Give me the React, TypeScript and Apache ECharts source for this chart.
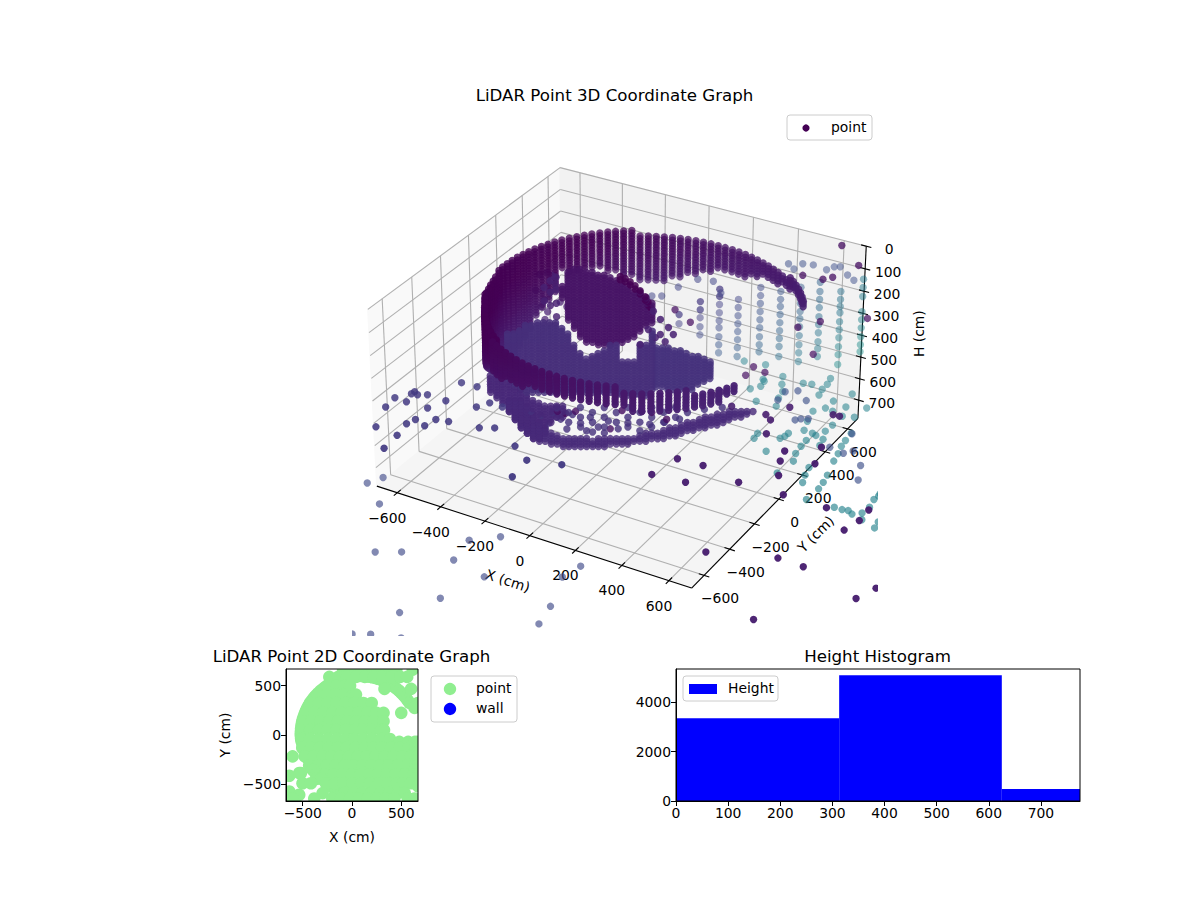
import { useEffect, useRef } from "react";
import * as echarts from "echarts";

const FONT = "DejaVu Sans";

// axis limits of the 3D view
const limXY = 695;
const limH = 785;
const readScale = 695 / 670; // the values below were read against a 670 cm box
const xTicks = [-600, -400, -200, 0, 200, 400, 600];
const yTicks = [-600, -400, -200, 0, 200, 400, 600];
const hTicks = [0, 100, 200, 300, 400, 500, 600, 700];

// scan heights shared by the columns below
const scanRows = [0, 12, 25, 37, 50, 62, 75, 87, 100, 112, 125, 137, 150, 162, 175, 187, 200, 212, 225, 237, 250, 262, 275, 287, 300, 312, 325, 337, 350, 362, 375, 387, 400, 412, 425, 437, 450, 462, 475, 487, 500, 512, 525, 537, 550, 562, 575, 587, 600, 612, 625, 637, 650, 662, 675, 687, 700, 712, 725, 737, 750, 762, 775];

// ceiling ring: x, y, first height, last height
const ringColumns = [
  [583, 327, 100, 125], [565, 353, 100, 125], [546, 378, 100, 125], [526, 401, 100, 125], [504, 424, 100, 125], [481, 446, 100, 125], [458, 466, 100, 150], [433, 485, 125, 150], [407, 503, 125, 150], [380, 520, 125, 175],
  [352, 535, 125, 175], [324, 548, 125, 175], [295, 560, 125, 175], [265, 571, 125, 200], [235, 580, 125, 200], [205, 587, 125, 225], [174, 593, 125, 225], [143, 597, 125, 225], [111, 599, 125, 225], [80, 600, 125, 225],
  [49, 599, 125, 250], [17, 597, 125, 250], [-14, 593, 125, 275], [-45, 587, 125, 275], [-75, 580, 125, 300], [-105, 571, 125, 300], [-135, 560, 125, 325], [-164, 548, 125, 325], [-192, 535, 125, 325], [-220, 520, 125, 325],
  [-247, 503, 100, 300], [-273, 485, 100, 300], [-298, 466, 100, 275], [-321, 446, 100, 275], [-344, 424, 100, 250], [-366, 401, 100, 250], [-386, 378, 100, 250], [-405, 353, 100, 250], [-423, 327, 100, 250], [-440, 300, 100, 225],
  [-455, 272, 100, 325], [-468, 244, 100, 350], [-480, 215, 100, 375], [-491, 185, 100, 400], [-500, 155, 100, 450], [-507, 125, 100, 475], [-513, 94, 100, 500], [-517, 63, 100, 525], [-519, 31, 100, 550], [-520, 0, 100, 575],
  [-517, -31, 100, 575], [-512, -63, 112, 550], [-503, -94, 112, 525], [-495, -125, 112, 500], [-485, -155, 112, 475], [-475, -185, 112, 450], [-462, -215, 100, 425], [-445, -244, 100, 400], [-425, -272, 100, 375], [-410, -300, 100, 350],
  [-393, -327, 100, 325], [-375, -353, 100, 300], [-356, -378, 100, 275], [-336, -401, 100, 250], [-314, -424, 100, 225], [-291, -446, 100, 225], [-268, -466, 100, 225], [-243, -485, 100, 225], [-247, -503, 100, 225], [-220, -520, 100, 225],
  [-192, -535, 100, 225], [-164, -548, 100, 200], [-135, -560, 100, 200], [-105, -571, 100, 200], [-75, -580, 100, 200], [-45, -587, 100, 175], [-14, -593, 100, 175], [17, -597, 100, 175], [49, -599, 100, 175], [80, -600, 100, 175],
  [111, -599, 100, 175], [143, -597, 100, 175], [174, -593, 100, 175], [205, -587, 100, 175], [235, -580, 100, 175], [265, -571, 100, 175], [295, -560, 100, 175], [324, -548, 125, 175], [352, -535, 125, 200], [380, -520, 125, 200],
  [407, -503, 125, 200], [433, -485, 125, 200], [458, -466, 125, 200], [481, -446, 125, 200], [504, -424, 125, 200], [526, -401, 150, 200], [546, -378, 150, 200], [565, -353, 150, 200], [583, -327, 150, 200], [600, -300, 150, 175], [614, -272, 150, 175],
];

// inner surfaces: x, y, first height, last height
const lowerLobe = [
  [-369, -213, 250, 455], [-350, -202, 240, 480], [-331, -191, 230, 500], [-311, -180, 210, 520], [-292, -168, 205, 520], [-272, -157, 200, 520], [-253, -146, 200, 520], [-233, -135, 200, 520], [-214, -123, 200, 520], [-194, -112, 215, 520],
  [-175, -101, 250, 520], [-156, -90, 290, 520], [-136, -79, 330, 520], [-117, -67, 355, 520], [-97, -56, 340, 520], [-78, -45, 330, 520], [-58, -34, 320, 520], [-39, -22, 297, 520], [-19, -11, 297, 525], [0, 0, 375, 525], [19, 11, 375, 525], [39, 22, 375, 530], [58, 34, 297, 530], [78, 45, 297, 530], [97, 56, 230, 500],
];
const upperLobe = [
  [-269, 18, 115, 185], [-250, 29, 60, 275], [-231, 40, 50, 320], [-211, 51, 50, 355], [-192, 63, 60, 380], [-172, 74, 60, 385], [-153, 85, 70, 390], [-133, 96, 75, 395], [-114, 108, 85, 395], [-94, 119, 95, 385], [-75, 130, 105, 380], [-56, 141, 115, 365], [-36, 152, 140, 350], [-17, 164, 150, 330], [3, 175, 170, 310], [22, 186, 200, 290],
];
const rightLobe = [
  [110, 64, 302, 490], [130, 75, 302, 490], [149, 86, 311, 509], [169, 97, 315, 509], [188, 109, 324, 505], [207, 120, 333, 505], [227, 131, 342, 500], [246, 142, 347, 486], [266, 153, 356, 473], [285, 165, 374, 455],
];
const underBand = [
  [-428, -247, 430, 520], [-408, -236, 430, 545], [-389, -225, 445, 568], [-369, -213, 455, 600], [-350, -202, 480, 645], [-331, -191, 500, 680], [-311, -180, 520, 707], [-292, -168, 545, 725], [-272, -157, 555, 725], [-253, -146, 568, 700], [-233, -135, 568, 658], [-214, -123, 568, 635], [-194, -112, 568, 625],
];
const floorBowl = [
  [-369, -213, 545, 600], [-350, -202, 545, 645], [-331, -191, 545, 680], [-311, -180, 570, 707], [-292, -168, 610, 725], [-272, -157, 645, 739], [-253, -146, 670, 748], [-233, -135, 694, 757], [-214, -123, 707, 761], [-194, -112, 716, 766], [-175, -101, 725, 766], [-156, -90, 725, 770], [-136, -79, 725, 770], [-117, -67, 725, 770], [-97, -56, 730, 770], [-78, -45, 725, 766], [-58, -34, 725, 766], [-39, -22, 725, 761], [-19, -11, 725, 761], [0, 0, 725, 761], [19, 11, 716, 755], [39, 22, 716, 748], [58, 34, 707, 748], [78, 45, 698, 740], [97, 56, 698, 734],
  [117, 67, 689, 730], [136, 79, 685, 725], [156, 90, 675, 720], [175, 101, 667, 716], [194, 112, 660, 705], [214, 123, 649, 698], [233, 135, 640, 695], [253, 146, 635, 685], [272, 157, 625, 680], [292, 168, 617, 671], [311, 180, 610, 662], [331, 191, 604, 653], [350, 202, 595, 640], [369, 213, 590, 631], [389, 225, 590, 625], [408, 236, 590, 613], [428, 247, 595, 610],
];

// loose returns between the surfaces
const darkStripe = [
  [-81, 126, 81], [-65, 136, 90], [-49, 145, 104], [-33, 154, 122], [-17, 164, 144], [0, 173, 171], [9, 179, 194], [16, 182, 216],
  [-81, 126, 95], [-65, 136, 104], [-49, 145, 118], [-33, 154, 136], [-17, 164, 158], [0, 173, 185], [9, 179, 208],
];
const innerDots = [
  [-500, 230, 239], [-475, 245, 230], [-458, 254, 243], [-449, 260, 284], [-465, 251, 320], [-484, 239, 356], [-497, 232, 387], [-484, 239, 446], [-432, 269, 365], [-475, 245, 410], [-513, 222, 311], [-410, 282, 387],
  [-308, -5, 100], [-308, -5, 150], [-308, -5, 210], [-289, 7, 85], [-289, 7, 140], [-289, 7, 200], [-289, 7, 260], [-328, -16, 130], [-328, -16, 190],
  [123, 71, 252], [149, 86, 221], [100, 58, 149], [123, 71, 185], [165, 95, 252], [84, 49, 230], [107, 62, 266], [139, 80, 284], [58, 34, 297],
];
const bowlDots = [
  [-298, -172, 599], [-266, -153, 617], [-227, -131, 604], [-201, -116, 635], [-162, -94, 613], [-136, -79, 653], [-104, -60, 626], [-78, -45, 671], [-45, -26, 644], [-13, -7, 680], [19, 11, 653], [58, 34, 689], [-240, -138, 653], [-181, -105, 680], [-117, -67, 689], [-58, -34, 698], [91, 52, 658], [139, 80, 649], [188, 109, 635], [269, 155, 590], [327, 189, 581],
  [-214, -123, 581], [-214, -123, 626], [-175, -101, 604], [-175, -101, 649], [-136, -79, 581], [-136, -79, 626], [-136, -79, 671], [-97, -56, 604], [-97, -56, 649], [-97, -56, 694], [-58, -34, 581], [-58, -34, 626], [-58, -34, 671], [-19, -11, 604], [-19, -11, 649], [19, 11, 581], [19, 11, 626], [19, 11, 671], [58, 34, 604], [58, 34, 649], [97, 56, 581], [97, 56, 626], [97, 56, 671], [136, 79, 604], [136, 79, 649], [175, 101, 581], [175, 101, 626], [214, 123, 604],
];
const frontDots = [
  [65, 37, 599], [97, 56, 604], [146, 84, 635], [-39, -22, 680], [-211, -122, 599], [-185, -107, 608], [-152, -88, 599], [0, 0, 595],
  [-47, 492, 401], [5, 522, 459], [368, 731, 482], [443, 774, 455], [423, 763, 608], [378, 737, 243], [446, 776, 261], [478, 795, 252], [222, 647, 667], [261, 670, 694], [196, 632, 707], [563, 844, 198], [504, 810, 108], [601, 866, 441],
];
const ringDots = [
  [28, 535, 261], [80, 565, 270], [-37, 498, 297], [-125, 447, 338], [-92, 466, 338], [106, 580, 324],
];

// far wall: x, y, heights of its returns
const wallColumns: [number, number, number[]][] = [
  [-96, 615, [499, 542]],
  [-24, 656, [438, 476, 513, 556, 594]],
  [41, 694, [381, 414, 452, 490, 528, 561, 603, 641, 679]],
  [105, 731, [428, 466, 504, 542, 579, 617, 655, 697]],
  [180, 774, [372, 410, 447, 485, 523, 561, 603, 641, 674]],
  [248, 814, [391, 428, 461, 499, 537, 575, 612, 650, 697]],
  [316, 853, [372, 414, 447, 485, 518, 556, 598, 641, 679, 721]],
  [381, 890, [348, 391, 428, 466, 509, 546, 584, 627, 660, 697]],
  [452, 931, [391, 428, 461, 490, 532, 570, 608, 650, 688, 735]],
  [527, 974, [334, 372, 414, 485, 523, 561, 603, 641, 674]],
];
const wallTop = [
  [271, 827, 263], [290, 838, 287], [319, 855, 263], [355, 875, 268], [400, 902, 291], [426, 916, 277], [446, 928, 277], [472, 943, 315], [494, 956, 339],
];
const floorWall = [
  [374, 378], [457, 384], [428, 494], [595, 421], [626, 465], [610, 344], [629, 279], [701, 313], [684, 268], [588, 230], [586, 205], [577, 183], [488, 172], [493, 134], [575, 74], [680, -40], [694, 63], [677, 115], [671, 171], [669, 218], [666, 275], [720, 256], [729, 211], [705, 366], [764, 52], [775, -2], [790, -51], [860, -61], [855, -13], [846, 39], [823, 138], [814, 193], [801, 246], [796, 291], [792, 348], [751, 459], [708, 443], [660, 458], [690, 511], [762, 544], [668, 611],
  [854, -147], [964, -143], [995, -143], [1017, -138], [1039, -152], [1067, -127], [1074, -80], [1065, -25], [1070, 4], [1086, -168], [1148, -193], [1210, -226], [1143, -152], [1068, 21], [310, 451], [336, 488], [330, 528], [468, 590], [500, 600], [552, 630],
  [190, 628], [276, 644], [376, 597], [320, 539], [400, 542], [543, 676], [552, 586], [561, 540], [437, 442], [629, 527],
];

// scattered returns outside the room
const nearOutliers = [
  [-551, -258], [-484, -254], [-706, -477], [-669, -421], [-667, -402], [-645, -416], [-613, -397], [-652, -480], [-698, -550], [-529, -400], [-559, -478], [-406, -381], [-379, -331], [-322, -333], [-438, -521], [-487, -532], [-498, -590], [-552, -570], [-564, -611], [-548, -697], [-316, -502], [-267, -474], [-135, -545], [-47, -606], [78, -569], [-33, -727], [-649, -686], [-539, -795],
];
const farOutliers = [
  [-637, -775], [-608, -714], [-518, -870], [-354, -1138], [-273, -1091], [-85, -1042], [-106, -908], [-21, -833], [65, -1077], [302, -941], [323, -851], [359, -1115], [4, -1264], [-70, -1406], [379, -1224], [-139, -1592], [-84, -1561], [18, -1528],
];
const rightOutliers = [
  [428, -531], [456, -394], [557, -388], [557, -517], [719, -423], [830, -869], [1059, -780], [1157, -784], [1155, -1140], [1393, -864], [1424, -776], [1177, -513], [1196, -433], [1061, -416], [1195, -356], [893, -417], [821, -313], [897, -178], [781, -223], [764, -155], [652, -82], [620, 12], [588, 37], [640, 128], [867, -66], [827, 162], [802, 160], [451, 27], [367, 99], [352, 64],
];
const rightBlueOutliers = [
  [1078, -199], [1043, -107], [578, 152], [574, 219], [612, 249], [671, 201], [698, 57], [736, 88], [713, 74], [893, -51], [953, -63], [977, -32], [921, 73],
];

// 2D graph: y, then the x values of that row
const planRows: [number, number[]][] = [
  [664, [-90, 0, 90, 180, 270, 360, 450, 617]],
  [590, [-230, -140, -50, 40, 130, 220, 310, 400, 490, 560]],
  [500, [-250, -160, -70, -20]],
  [468, [330, 600]],
  [410, [-350, -260, -170, -80, 10, 40]],
  [325, [-425, -335, -245, -155, -65, 25, 115, 200, 670]],
  [275, [635]],
  [225, [-470, -380, -290, -200, -110, -20, 70, 160, 250, 320, 500]],
  [140, [-500, -410, -320, -230, -140, -50, 40, 130, 220, 320]],
  [50, [-515, -425, -335, -245, -155, -65, 25, 115, 205, 295, 325]],
  [-40, [-515, -425, -335, -245, -155, -65, 25, 115, 205, 295, 385]],
  [-70, [480, 570, 640, 670]],
  [-130, [-505, -415, -325, -235, -145, -55, 35, 125, 215, 305, 395, 485, 575, 640, 670]],
  [-175, [640, 670]],
  [-217, [-603, -480, -390, -300, -210, -120, -30, 60, 150, 240, 330, 420, 510, 600, 670]],
  [-260, [640, 670]],
  [-310, [-435, -345, -255, -165, -75, 15, 105, 195, 285, 375, 465, 555, 645, 670]],
  [-355, [-400, 640, 670]],
  [-386, [-535, -519]],
  [-400, [-365, -275, -185, -95, -5, 85, 175, 265, 355, 445, 535, 625, 670]],
  [-414, [-637]],
  [-445, [-360, -310, 640]],
  [-490, [-502, -417, -265, -175, -85, 5, 95, 185, 275, 365, 455, 520, 600]],
  [-520, [670]],
  [-573, [-637]],
  [-590, [-298, -75, 15, 105, 195, 285, 375, 465, 535]],
  [-607, [-536]],
  [-645, [-603, -383, -200, -110, -20, 70, 160, 250, 340, 430, 566, 634]],
];
const planLimit = 670;
const planTicks = [-500, 0, 500];

// histogram
const histEdges = [0, 313, 625, 775];
const histCounts = [3354, 5090, 485];
const histXTicks = [0, 100, 200, 300, 400, 500, 600, 700];
const histYTicks = [0, 2000, 4000];

const viridis = [
  [68, 1, 84], [72, 36, 117], [65, 68, 135], [53, 95, 141], [42, 120, 142], [33, 145, 140], [34, 168, 132], [68, 191, 112], [122, 209, 81], [189, 223, 38], [253, 231, 37],
];

const boxA = 0.63;
const boxC = 0.354;
const elev = (30 * Math.PI) / 180;
const azim = (-60 * Math.PI) / 180;
const w = [Math.cos(elev) * Math.cos(azim), Math.cos(elev) * Math.sin(azim), Math.sin(elev)];
const u = [-Math.sin(azim), Math.cos(azim), 0];
const v = [w[1] * u[2] - w[2] * u[1], w[2] * u[0] - w[0] * u[2], w[0] * u[1] - w[1] * u[0]];

// same view as a default matplotlib 3D axes, H axis pointing down
function project(x: number, y: number, h: number) {
  const q = [(x / limXY) * boxA, (y / limXY) * boxA, boxC - (h / limH) * 2 * boxC];
  const depth = q[0] * w[0] + q[1] * w[1] + q[2] * w[2];
  const xv = q[0] * u[0] + q[1] * u[1] + q[2] * u[2];
  const yv = q[0] * v[0] + q[1] * v[1] + q[2] * v[2];
  return [xv / (10 - depth), yv / (10 - depth), depth];
}

function rangeValue(x: number, y: number, h: number) {
  return (Math.sqrt(x * x + y * y + h * h) - 550) / 1500;
}

function expand(columns: number[][], c: number | null) {
  const out: number[][] = [];
  columns.forEach(([x, y, top, bottom]) => {
    scanRows.forEach((h) => {
      if (h >= top && h <= bottom) out.push([x, y, h, c === null ? rangeValue(x, y, h) : c]);
    });
  });
  return out;
}

function tint(list: number[][], h: number | null, c: number) {
  return list.map((p) => [p[0], p[1], h === null ? p[2] : h, c]);
}

const allPoints: number[][] = [
  ...expand(ringColumns, null),
  ...expand(lowerLobe, 0.13),
  ...expand(upperLobe, 0.05),
  ...expand(rightLobe, 0.14),
  ...expand(underBand, 0.11),
  ...expand(floorBowl, 0.12),
  ...tint(darkStripe, null, 0),
  ...tint(innerDots, null, 0.09),
  ...tint(bowlDots, null, 0.14),
  ...tint(frontDots, null, 0.04),
  ...tint(ringDots, null, 0.2),
  ...wallColumns.flatMap(([x, y, hs]) => hs.map((h) => [x, y, h, rangeValue(x, y, h)])),
  ...tint(wallTop, null, 0.24),
  ...tint(floorWall, 640, 0.44),
  ...tint(nearOutliers, 500, 0.17),
  ...tint(farOutliers, 700, 0.22),
  ...tint(rightOutliers, 450, 0.08),
  ...tint(rightBlueOutliers, 450, 0.24),
];

function viridisColor(t: number, alpha: number) {
  const s = Math.min(Math.max(t, 0), 1) * (viridis.length - 1);
  const i = Math.min(Math.floor(s), viridis.length - 2);
  const f = s - i;
  const rgb = viridis[i].map((c, k) => Math.round(c + (viridis[i + 1][k] - c) * f));
  return `rgba(${rgb[0]},${rgb[1]},${rgb[2]},${alpha.toFixed(2)})`;
}

const cloud = allPoints
  .map((p) => {
    const [px, py, depth] = project(p[0] * readScale, p[1] * readScale, p[2]);
    return { px, py, depth, c: p[3] };
  })
  .sort((a, b) => a.depth - b.depth);
// far returns look paler than the dense purple ones
const cloudColors = cloud.map((p) => {
  const shade = Math.min(Math.max(0.84 + 0.3 * p.depth, 0.6), 0.96);
  return viridisColor(p.c, p.c > 0.18 ? Math.min(shade, 0.9) * 0.72 : shade);
});

const planData = [...ringColumns.map((c) => [c[0], c[1]]), ...planRows.flatMap(([y, xs]) => xs.map((x) => [x, y]))];

// panes, grid lines, ticks and labels of the 3D box
type Prim = { kind: string; pts: number[][]; color?: string; width?: number; text?: string; rot?: number; dx?: number; dy?: number };
const xy = (x: number, y: number, h: number) => project(x, y, h).slice(0, 2);
const L = limXY;
const frame: Prim[] = [
  { kind: "poly", color: "#f9f9f9", pts: [xy(-L, -L, 0), xy(-L, L, 0), xy(-L, L, limH), xy(-L, -L, limH)] },
  { kind: "poly", color: "#f2f2f2", pts: [xy(-L, L, 0), xy(L, L, 0), xy(L, L, limH), xy(-L, L, limH)] },
  { kind: "poly", color: "#f5f5f5", pts: [xy(-L, -L, limH), xy(L, -L, limH), xy(L, L, limH), xy(-L, L, limH)] },
];
const gridLine = (a: number[], b: number[]) => frame.push({ kind: "line", pts: [a, b], color: "#b0b0b0", width: 1.1 });
xTicks.forEach((x) => {
  gridLine(xy(x, -L, limH), xy(x, L, limH));
  gridLine(xy(x, L, limH), xy(x, L, 0));
});
yTicks.forEach((y) => {
  gridLine(xy(L, y, limH), xy(-L, y, limH));
  gridLine(xy(-L, y, limH), xy(-L, y, 0));
});
hTicks.forEach((h) => {
  gridLine(xy(-L, -L, h), xy(-L, L, h));
  gridLine(xy(-L, L, h), xy(L, L, h));
});
const blackLine = (a: number[], b: number[]) => frame.push({ kind: "line", pts: [a, b], color: "#000", width: 1.1 });
blackLine(xy(-L, -L, limH), xy(L, -L, limH));
blackLine(xy(L, -L, limH), xy(L, L, limH));
blackLine(xy(L, L, limH), xy(L, L, 0));
const minus = (n: number) => String(n).replace("-", "\u2212");
const label = (at: number[], dx: number, dy: number, text: string, rot = 0) => frame.push({ kind: "text", pts: [at], dx, dy, text, rot });
xTicks.forEach((x) => {
  blackLine(xy(x, -L - 24, limH), xy(x, -L + 24, limH));
  label(xy(x, -L, limH), -10, 25, minus(x));
});
yTicks.forEach((y) => {
  blackLine(xy(L - 22, y, limH), xy(L + 22, y, limH));
  label(xy(L, y, limH), 16, 23, minus(y));
});
hTicks.forEach((h) => {
  blackLine(xy(L - 22, L, h), xy(L + 22, L, h));
  label(xy(L, L, h), 23, 3, String(h));
});
label(xy(0, -L, limH), -22, 45, "X (cm)", -0.31);
label(xy(L, 0, limH), 37, 35, "Y (cm)", 0.785);
label(xy(L, L, 392), 57, 0, "H (cm)", Math.PI / 2);

function renderFrame(params: any, api: any) {
  const prim = frame[params.dataIndex];
  const pts = prim.pts.map((p) => api.coord(p));
  if (prim.kind === "poly") {
    return { type: "polygon", silent: true, shape: { points: pts }, style: { fill: prim.color, stroke: prim.color, lineWidth: 1.5 } };
  }
  if (prim.kind === "line") {
    return { type: "line", silent: true, shape: { x1: pts[0][0], y1: pts[0][1], x2: pts[1][0], y2: pts[1][1] }, style: { stroke: prim.color, lineWidth: prim.width } };
  }
  return {
    type: "text",
    silent: true,
    x: pts[0][0] + (prim.dx || 0),
    y: pts[0][1] + (prim.dy || 0),
    rotation: prim.rot || 0,
    style: { text: prim.text, fontSize: 13.9, fontFamily: FONT, fill: "#000", align: "center", verticalAlign: "middle" },
  };
}

// custom series so that the marks are really cut at the axes, as in the original
function renderCloud(params: any, api: any) {
  const c = api.coord([api.value(0), api.value(1)]);
  return { type: "circle", silent: true, shape: { cx: c[0], cy: c[1], r: 3.7 }, style: { fill: cloudColors[params.dataIndex] } };
}

function renderPlan(_params: any, api: any) {
  const c = api.coord([api.value(0), api.value(1)]);
  return { type: "circle", silent: true, shape: { cx: c[0], cy: c[1], r: 6.3 }, style: { fill: "#90ee90" } };
}

function renderHist(_params: any, api: any) {
  const a = api.coord([api.value(0), api.value(2)]);
  const b = api.coord([api.value(1), 0]);
  return { type: "rect", silent: true, shape: { x: a[0], y: a[1], width: b[0] - a[0], height: b[1] - a[1] }, style: { fill: "#0000ff" } };
}

const tickText = { color: "#000", fontFamily: FONT, fontSize: 13.9 };
const titleText = { fontWeight: "normal", fontSize: 16.67, fontFamily: FONT, color: "#000" };
const axisBase = {
  axisLine: { show: true, onZero: false, lineStyle: { color: "#000", width: 1 } },
  axisTick: { show: true, length: 5, lineStyle: { color: "#000", width: 1 } },
  splitLine: { show: false },
  nameTextStyle: tickText,
  nameLocation: "middle" as const,
  z: 5,
};

const legendRect = (x: number, y: number, width: number, height: number) => ({
  type: "rect",
  z: 10,
  shape: { x, y, width, height, r: 3 },
  style: { fill: "rgba(255,255,255,0.8)", stroke: "#cccccc", lineWidth: 1 },
});
const legendDot = (cx: number, cy: number, r: number, fill: string) => ({
  type: "circle",
  z: 11,
  shape: { cx, cy, r },
  style: { fill },
});
const legendText = (x: number, y: number, text: string) => ({
  type: "text",
  z: 11,
  x,
  y,
  style: { text, fontSize: 13.9, fontFamily: FONT, fill: "#000", align: "left", verticalAlign: "middle" },
});

export default function App() {
  const chartRef = useRef<HTMLDivElement>(null);

  useEffect(() => {
    if (!chartRef.current) return;
    const chart = echarts.init(chartRef.current, null, { renderer: "svg" });

    chart.setOption({
      animation: false,
      backgroundColor: "#fff",
      title: [
        { text: "LiDAR Point 3D Coordinate Graph", left: 609.5, top: 82, textAlign: "center", textStyle: titleText },
        { text: "LiDAR Point 2D Coordinate Graph", left: 346.5, top: 643, textAlign: "center", textStyle: titleText },
        { text: "Height Histogram", left: 872.5, top: 643, textAlign: "center", textStyle: titleText },
      ],
      graphic: [
        legendRect(787, 115, 85, 25),
        legendDot(806, 128, 3.6, "#440154"),
        legendText(831, 127, "point"),
        legendRect(431, 676, 86, 46),
        legendDot(450, 689, 6.2, "#90ee90"),
        legendText(476, 688, "point"),
        legendDot(450, 709, 6.2, "#0000ff"),
        legendText(476, 708, "wall"),
        legendRect(683, 676, 95, 25),
        { type: "rect", z: 11, shape: { x: 689, y: 684, width: 28, height: 10 }, style: { fill: "#0000ff" } },
        legendText(728, 688, "Height"),
      ],
      grid: [
        { left: 352, top: 110, width: 526, height: 526, show: false },
        { left: 286, top: 669, width: 132, height: 132, show: true, borderColor: "#000", borderWidth: 1, z: 5 },
        { left: 676, top: 669, width: 404, height: 132, show: true, borderColor: "#000", borderWidth: 1, z: 5 },
      ],
      xAxis: [
        { gridIndex: 0, type: "value", min: -0.095, max: 0.09, show: false },
        {
          ...axisBase,
          gridIndex: 1,
          type: "value",
          min: -planLimit,
          max: planLimit,
          name: "X (cm)",
          nameGap: 29,
          axisTick: { ...axisBase.axisTick, customValues: planTicks },
          axisLabel: { ...tickText, margin: 5, customValues: planTicks, formatter: (val: number) => minus(val) },
        },
        {
          ...axisBase,
          gridIndex: 2,
          type: "value",
          min: 0,
          max: 775,
          axisTick: { ...axisBase.axisTick, customValues: histXTicks },
          axisLabel: { ...tickText, margin: 5, customValues: histXTicks, formatter: (val: number) => String(val) },
        },
      ],
      yAxis: [
        { gridIndex: 0, type: "value", min: -0.095, max: 0.09, show: false },
        {
          ...axisBase,
          gridIndex: 1,
          type: "value",
          min: -planLimit,
          max: planLimit,
          name: "Y (cm)",
          nameGap: 54,
          axisTick: { ...axisBase.axisTick, customValues: planTicks },
          axisLabel: { ...tickText, margin: 5, customValues: planTicks, formatter: (val: number) => minus(val) },
        },
        {
          ...axisBase,
          gridIndex: 2,
          type: "value",
          min: 0,
          max: 5345,
          axisTick: { ...axisBase.axisTick, customValues: histYTicks },
          axisLabel: { ...tickText, margin: 5, customValues: histYTicks, formatter: (val: number) => String(val) },
        },
      ],
      series: [
        {
          type: "custom",
          xAxisIndex: 0,
          yAxisIndex: 0,
          z: 1,
          silent: true,
          renderItem: renderFrame,
          data: frame.map(() => [0, 0]),
        },
        {
          name: "point",
          type: "custom",
          xAxisIndex: 0,
          yAxisIndex: 0,
          z: 2,
          silent: true,
          clip: true,
          renderItem: renderCloud,
          data: cloud.map((p) => [p.px, p.py]),
        },
        {
          name: "point ",
          type: "custom",
          xAxisIndex: 1,
          yAxisIndex: 1,
          clip: true,
          silent: true,
          renderItem: renderPlan,
          data: planData,
        },
        { name: "wall", type: "scatter", xAxisIndex: 1, yAxisIndex: 1, itemStyle: { color: "#0000ff" }, data: [] },
        {
          name: "Height",
          type: "custom",
          xAxisIndex: 2,
          yAxisIndex: 2,
          silent: true,
          renderItem: renderHist,
          data: histCounts.map((n, i) => [histEdges[i], histEdges[i + 1], n]),
        },
      ],
    });

    return () => {
      chart.dispose();
    };
  }, []);

  return <div ref={chartRef} style={{ position: "fixed", left: 0, top: 0, width: 1200, height: 900 }} />;
}
